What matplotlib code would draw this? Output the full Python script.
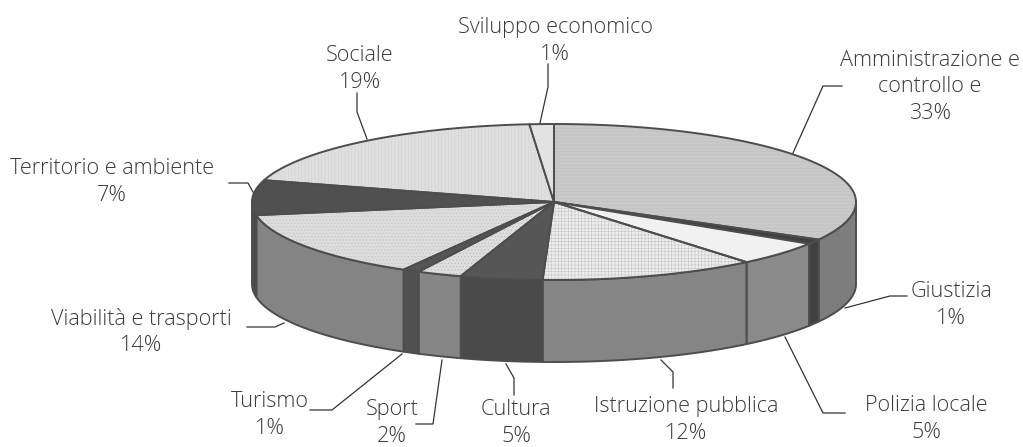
import numpy as np
import matplotlib
matplotlib.use('Agg')
import matplotlib.pyplot as plt
from matplotlib.patches import Polygon

plt.rcParams['font.family'] = ['Open Sans', 'DejaVu Sans']
plt.rcParams['hatch.linewidth'] = 0.35

# clockwise from 12 o'clock, widths
names = ['Amministrazione e\ncontrollo e', 'Giustizia', 'Polizia locale', 'Istruzione pubblica',
         'Cultura', 'Sport', 'Turismo', 'Viabilità e trasporti', 'Territorio e ambiente',
         'Sociale', 'Sviluppo economico']
shares = [33, 1, 5, 11.6, 4.4, 2.4, 0.9, 14, 7.2, 19.2, 1.3]
printed = ['33%', '1%', '5%', '12%', '5%', '2%', '1%', '14%', '7%', '19%', '1%']

top_cols = ['#c9c9c9', '#404040', '#f1f1f1', '#ececec', '#565656', '#dedede', '#555555',
            '#dcdcdc', '#505050', '#dfdfdf', '#e2e2e2']
side_cols = ['#7d7d7d', '#404040', '#8a8a8a', '#858585', '#4a4a4a', '#868686', '#505050',
             '#848484', '#4a4a4a', '#808080', '#808080']
hatches = ['-----', None, None, '+++++', None, '.....', None, '.....', None, '|||||', None]
hatch_cols = ['#bdbdbd', None, None, '#c4c4c4', None, '#b5b5b5', None, '#c0c0c0', None, '#d0d0d0', None]

text_pos = [(930, 87), (951, 305), (926, 419), (686, 420), (516, 423), (392, 423), (270, 415),
            (141, 332), (112, 182), (360, 69), (555, 41)]
leaders = [[(842, 86), (823, 86), (793, 153)],
           [(907, 296), (890, 296), (845, 308)],
           [(845, 413), (823, 413), (785, 337)],
           [(673, 388), (673, 372), (661, 360)],
           [(514, 395), (514, 378), (506, 364)],
           [(416, 424), (433, 424), (442, 360)],
           [(310, 410), (332, 410), (402, 354)],
           [(247, 327), (275, 327), (284, 323)],
           [(229, 183), (248, 183), (253, 192)],
           [(357, 93), (357, 112), (367, 139)],
           [(548, 64), (548, 87), (540, 123)]]

cx, cy, rx, ry, depth = 554, 202, 302, 78, 82
edge = '#4d4d4d'

fig = plt.figure(figsize=(10.23, 4.47), dpi=100)
ax = fig.add_axes([0, 0, 1, 1])
ax.set_xlim(0, 1023)
ax.set_ylim(447, 0)
ax.axis('off')


def rim(a, b, dy=0):
    t = np.radians(np.linspace(a, b, 80))
    return np.column_stack([cx + rx*np.sin(t), cy + dy - ry*np.cos(t)])


bounds = np.concatenate([[0], np.cumsum(shares)]) * 3.6

# sides: only the part of each slice on the front of the disc
for i in range(len(shares)):
    a, b = max(bounds[i], 90), min(bounds[i+1], 270)
    if b <= a:
        continue
    poly = np.vstack([rim(a, b), rim(b, a, depth)])
    ax.add_patch(Polygon(poly, fc=side_cols[i], ec=edge, lw=1.4, joinstyle='round', zorder=2))

# top face
for i in range(len(shares)):
    poly = np.vstack([[cx, cy], rim(bounds[i], bounds[i+1])])
    if hatches[i]:
        ax.add_patch(Polygon(poly, fc=top_cols[i], ec=hatch_cols[i], hatch=hatches[i], lw=0, zorder=3))
        ax.add_patch(Polygon(poly, fc='none', ec=edge, lw=1.4, joinstyle='round', zorder=4))
    else:
        ax.add_patch(Polygon(poly, fc=top_cols[i], ec=edge, lw=1.4, joinstyle='round', zorder=4))

for pts in leaders:
    xs, ys = zip(*pts)
    ax.plot(xs, ys, color='#333333', lw=0.9, zorder=5)

for name, pct, (x, y) in zip(names, printed, text_pos):
    ax.text(x, y, name + '\n' + pct, ha='center', va='center', fontsize=15.6, color='#3a3a3a',
            linespacing=1.33, fontweight='light')

fig.savefig('out.png', dpi=100)
